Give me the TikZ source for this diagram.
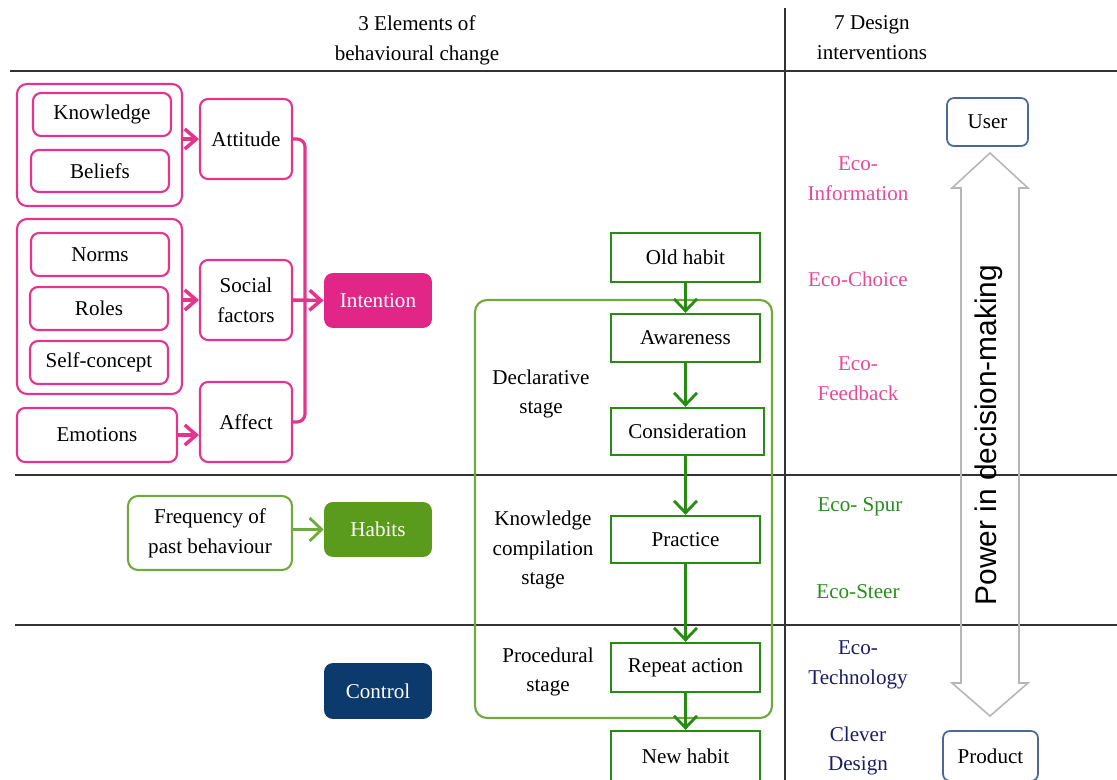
\documentclass[tikz,border=0pt]{standalone}
\usepackage{fontspec}
\setmainfont{Liberation Serif}
\newfontfamily\sansarial{Liberation Sans}
\usetikzlibrary{arrows.meta}

\definecolor{pinkln}{RGB}{228,52,140}
\definecolor{pinkfill}{RGB}{226,38,136}
\definecolor{pinktxt}{RGB}{232,72,152}
\definecolor{greenln}{RGB}{40,140,20}
\definecolor{lightgreen}{RGB}{112,170,62}
\definecolor{greenfill}{RGB}{90,155,30}
\definecolor{greentxt}{RGB}{40,140,30}
\definecolor{navyfill}{RGB}{12,58,108}
\definecolor{navytxt}{RGB}{28,28,102}
\definecolor{userln}{RGB}{75,105,150}
\definecolor{greyarrow}{RGB}{182,182,182}
\definecolor{rulecol}{RGB}{50,50,50}

\tikzset{
    txt/.style={font=\fontsize{12}{17}\selectfont, align=center, inner sep=0pt},
    pinkbox/.style={txt, draw=pinkln, line width=1.2pt, rounded corners=0.16cm},
    pinkgroup/.style={draw=pinkln, line width=1.2pt, rounded corners=0.2cm, inner sep=0pt},
    pinkarrow/.style={draw=pinkln, line width=2pt, -{Straight Barb[length=2.3mm,width=4mm]}},
    greenbox/.style={txt, draw=greenln, line width=1.3pt},
    greenarrow/.style={draw=greenln, line width=1.6pt, -{Straight Barb[length=2.4mm,width=4.6mm]}},
    solidbox/.style={txt, text=white, rounded corners=0.18cm, minimum width=2.16cm, minimum height=1.1cm},
    rolebox/.style={txt, draw=userln, line width=1pt, rounded corners=0.14cm},
    divider/.style={draw=rulecol, line width=1.1pt},
}

\begin{document}
\begin{tikzpicture}[x=0.02cm, y=-0.02cm]
    \useasboundingbox (0,0) rectangle (1117,780);

    % table rules
    \draw [divider] (10,71) -- (1117,71);
    \draw [divider] (785,8) -- (785,780);
    \draw [divider] (15,475) -- (1117,475);
    \draw [divider] (15,625) -- (1117,625);

    \node [txt] (hdrelem) at (417,40) {3 Elements of\\behavioural change};
    \node [txt] (hdrdesign) at (872,38) {7 Design\\interventions};

    % intention
    \node [pinkgroup, minimum width=3.3cm, minimum height=2.44cm] (grpone) at (99.5,145) {};
    \node [pinkbox, minimum width=2.76cm, minimum height=0.86cm] (know) at (102,114.5) {Knowledge};
    \node [pinkbox, minimum width=2.76cm, minimum height=0.84cm] (belief) at (100,171) {Beliefs};
    \node [pinkbox, minimum width=1.84cm, minimum height=1.6cm] (attitude) at (246,139) {Attitude};

    \node [pinkgroup, minimum width=3.3cm, minimum height=3.5cm] (grptwo) at (99.5,306.5) {};
    \node [pinkbox, minimum width=2.76cm, minimum height=0.86cm] (norms) at (100,254.5) {Norms};
    \node [pinkbox, minimum width=2.76cm, minimum height=0.86cm] (roles) at (99,308.5) {Roles};
    \node [pinkbox, minimum width=2.76cm, minimum height=0.86cm] (selfc) at (99,362.5) {Self-concept};
    \node [pinkbox, minimum width=1.84cm, minimum height=1.6cm] (social) at (246,300) {Social\\factors};

    \node [pinkbox, minimum width=3.2cm, minimum height=1.08cm] (emotions) at (97,435) {Emotions};
    \node [pinkbox, minimum width=1.84cm, minimum height=1.6cm] (affect) at (246,422) {Affect};

    \node [solidbox, fill=pinkfill] (intention) at (378,300.5) {Intention};

    \draw [pinkarrow] (grpone.east |- attitude.west) -- (attitude.west);
    \draw [pinkarrow] (grptwo.east |- social.west) -- (social.west);
    \draw [pinkarrow] (emotions.east) -- (emotions.east -| affect.west);
    \draw [pinkarrow] (social.east) -- (intention.west);
    \draw [draw=pinkln, line width=1.8pt, rounded corners=0.16cm]
        (attitude.east) -- ++(12,0) |- (affect.east);

    % habits and control
    \node [txt, draw=lightgreen, line width=1.2pt, rounded corners=0.2cm,
        minimum width=3.28cm, minimum height=1.48cm] (freq) at (210,533) {Frequency of\\past behaviour};
    \node [solidbox, fill=greenfill] (habits) at (378,529.5) {Habits};
    \node [solidbox, fill=navyfill, minimum height=1.12cm] (control) at (378,691) {Control};
    \draw [greenarrow, draw=lightgreen] (freq.east |- habits.west) -- (habits.west);

    % stages
    \draw [draw=lightgreen, line width=1.2pt, rounded corners=0.24cm] (475,300) rectangle (772,718);
    \node [txt] (declar) at (541,394) {Declarative\\stage};
    \node [txt] (compil) at (543,550) {Knowledge\\compilation\\stage};
    \node [txt] (proced) at (548,672) {Procedural\\stage};

    \node [greenbox, minimum width=2.98cm, minimum height=0.98cm] (oldhabit) at (685.5,257.5) {Old habit};
    \node [greenbox, minimum width=2.98cm, minimum height=0.96cm] (aware) at (685.5,338) {Awareness};
    \node [greenbox, minimum width=3.06cm, minimum height=0.94cm] (consider) at (687.5,431.5) {Consideration};
    \node [greenbox, minimum width=2.98cm, minimum height=0.94cm] (practice) at (685.5,539.5) {Practice};
    \node [greenbox, minimum width=2.98cm, minimum height=0.98cm] (repeat) at (685.5,667.5) {Repeat action};
    \node [greenbox, minimum width=2.98cm, minimum height=1.0cm] (newhabit) at (685.5,756) {New habit};

    \draw [greenarrow] (oldhabit.south) -- (aware.north);
    \draw [greenarrow] (aware.south) -- (aware.south |- consider.north);
    \draw [greenarrow] (consider.south -| practice.north) -- (practice.north);
    \draw [greenarrow] (practice.south) -- (repeat.north);
    \draw [greenarrow] (repeat.south) -- (newhabit.north);

    % design interventions
    \node [txt, text=pinktxt] (ecoinfo) at (858,179) {Eco-\\Information};
    \node [txt, text=pinktxt] (ecochoice) at (858,279) {Eco-Choice};
    \node [txt, text=pinktxt] (ecofeed) at (858,379) {Eco-\\Feedback};
    \node [txt, text=greentxt] (ecospur) at (860,507) {Eco- Spur};
    \node [txt, text=greentxt] (ecosteer) at (858,592) {Eco-Steer};
    \node [txt, text=navytxt] (ecotech) at (858,665) {Eco-\\Technology};
    \node [txt, text=navytxt] (clever) at (858,751) {Clever\\Design};

    \node [rolebox, minimum width=1.62cm, minimum height=0.96cm] (user) at (987.5,122) {User};
    \node [rolebox, minimum width=1.9cm, minimum height=1.0cm] (product) at (990.5,756) {Product};

    \draw [draw=greyarrow, line width=0.9pt]
        (990,153) -- (1028,188) -- (1019,188) -- (1019,683) -- (1028,683)
        -- (990,716) -- (952,683) -- (961,683) -- (961,188) -- (952,188) -- cycle;
    \node [rotate=90, inner sep=0pt, font=\sansarial\fontsize{17}{20}\selectfont] (power) at (989,435) {Power in decision-making};
\end{tikzpicture}
\end{document}
